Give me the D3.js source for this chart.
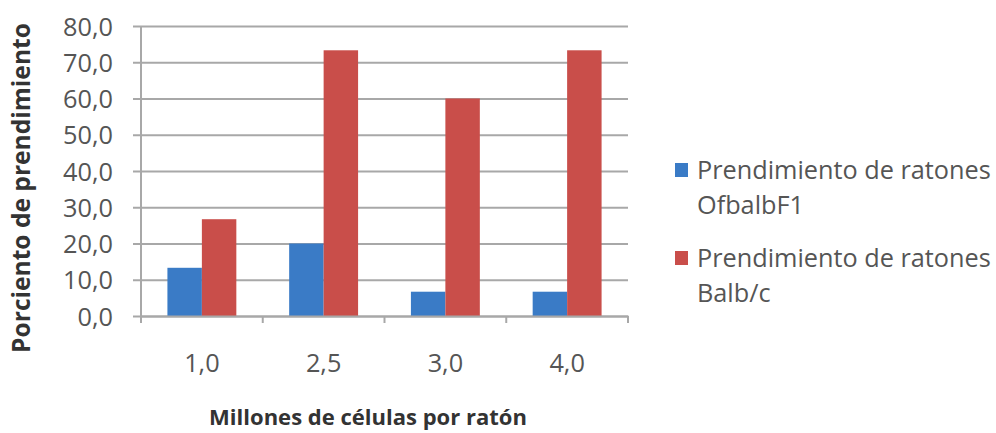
<!DOCTYPE html>
<html>
<head>
<meta charset="utf-8">
<script src="https://cdn.jsdelivr.net/npm/d3@7"></script>
<style>
  html, body { margin: 0; padding: 0; background: #fff; }
  svg { display: block; }
  text { font-family: "Open Sans", Lato, sans-serif; }
</style>
</head>
<body>
<svg id="chart" width="996" height="433"></svg>
<script>
// Data
const categories = ["1,0", "2,5", "3,0", "4,0"];
const seriesNames = ["Prendimiento de ratones OfbalbF1", "Prendimiento de ratones Balb/c"];
const seriesLines = [["Prendimiento de ratones", "OfbalbF1"], ["Prendimiento de ratones", "Balb/c"]];
const ofbalbF1 = [13.3, 20.0, 6.7, 6.7];
const balbC = [26.7, 73.3, 60.0, 73.3];
const yTicks = [0, 10, 20, 30, 40, 50, 60, 70, 80];
const yTitle = "Porciento de prendimiento";
const xTitle = "Millones de células por ratón";

const colors = ["#3a7bc6", "#c94e4a"];
const series = [ofbalbF1, balbC];

const svg = d3.select("#chart");
const plot = { left: 141, right: 628, top: 26, bottom: 316 };

// Scale a text's font size so that it spans the given width
function fitSize(str, width, weight) {
  const t = svg.append("text").attr("font-size", 20).attr("font-weight", weight || "normal").text(str);
  const w = t.node().getComputedTextLength();
  t.remove();
  return 20 * width / w;
}
const tickSize = fitSize("80,0", 50);
const legendSize = fitSize("Prendimiento de ratones", 294);
const yTitleSize = fitSize(yTitle, 330, "bold");
const xTitleSize = fitSize(xTitle, 318, "bold");

const x = d3.scaleBand().domain(categories).range([plot.left, plot.right]).paddingInner(0).paddingOuter(0);
const xSub = d3.scaleBand().domain([0, 1]).range([0, x.bandwidth() * 0.566]);
const y = d3.scaleLinear().domain([0, 80]).range([plot.bottom, plot.top]);

const fmt = v => d3.format(".1f")(v).replace(".", ",");

// Horizontal gridlines with small outer ticks on the left
const yAxis = d3.axisLeft(y).tickValues(yTicks).tickFormat(fmt)
  .tickSize(-(plot.right - plot.left)).tickSizeOuter(0).tickPadding(28);
const gy = svg.append("g").attr("transform", `translate(${plot.left},0)`).call(yAxis);
gy.select(".domain").remove();
gy.selectAll(".tick line").attr("stroke", "#a8a8a8").attr("stroke-width", 2)
  .attr("x1", -8);
gy.selectAll(".tick text").attr("fill", "#555").attr("font-size", tickSize)
  .attr("font-family", null).attr("text-anchor", "end").attr("dy", "0.36em");

// Bars
const groups = svg.append("g").selectAll("g").data(series).join("g")
  .attr("fill", (d, i) => colors[i]);
groups.each(function(vals, si) {
  d3.select(this).selectAll("rect").data(vals).join("rect")
    .attr("x", (v, ci) => x(categories[ci]) + (x.bandwidth() - xSub.range()[1]) / 2 + xSub(si))
    .attr("width", xSub.bandwidth())
    .attr("y", v => y(v))
    .attr("height", v => y(0) - y(v));
});

// Value axis line
svg.append("line").attr("x1", plot.left).attr("x2", plot.left)
  .attr("y1", plot.top).attr("y2", plot.bottom + 6)
  .attr("stroke", "#a8a8a8").attr("stroke-width", 2);

// Category axis with ticks between categories
const xAxis = d3.axisBottom(x).tickSize(0).tickPadding(0);
const gx = svg.append("g").attr("transform", `translate(0,${plot.bottom})`).call(xAxis);
gx.select(".domain").attr("stroke", "#a8a8a8").attr("stroke-width", 2);
gx.selectAll(".tick text").attr("fill", "#555").attr("font-size", tickSize)
  .attr("font-family", null).attr("y", 56).attr("dy", 0);
const bounds = categories.map(c => x(c)).concat([plot.right]);
gx.selectAll("line.sep").data(bounds).join("line").attr("class", "sep")
  .attr("x1", d => d).attr("x2", d => d).attr("y1", 0).attr("y2", 7)
  .attr("stroke", "#a8a8a8").attr("stroke-width", 2);

// Axis titles
svg.append("text").attr("transform", "translate(30,188) rotate(-90)")
  .attr("text-anchor", "middle").attr("font-weight", "bold").attr("font-size", yTitleSize)
  .attr("fill", "#333").text(yTitle);
svg.append("text").attr("x", 368).attr("y", 425)
  .attr("text-anchor", "middle").attr("font-weight", "bold").attr("font-size", xTitleSize)
  .attr("fill", "#333").text(xTitle);

// Legend
const legendTop = [170, 258];
const legend = svg.append("g");
seriesLines.forEach((lines, i) => {
  const g = legend.append("g").attr("transform", `translate(675,${legendTop[i]})`);
  g.append("rect").attr("x", 0).attr("y", -7).attr("width", 13).attr("height", 14)
    .attr("fill", colors[i]);
  g.append("title").text(seriesNames[i]);
  lines.forEach((t, li) => {
    g.append("text").attr("x", 22).attr("y", li * 35).attr("dy", "0.36em")
      .attr("font-size", legendSize).attr("fill", "#555").text(t);
  });
});
</script>
</body>
</html>
